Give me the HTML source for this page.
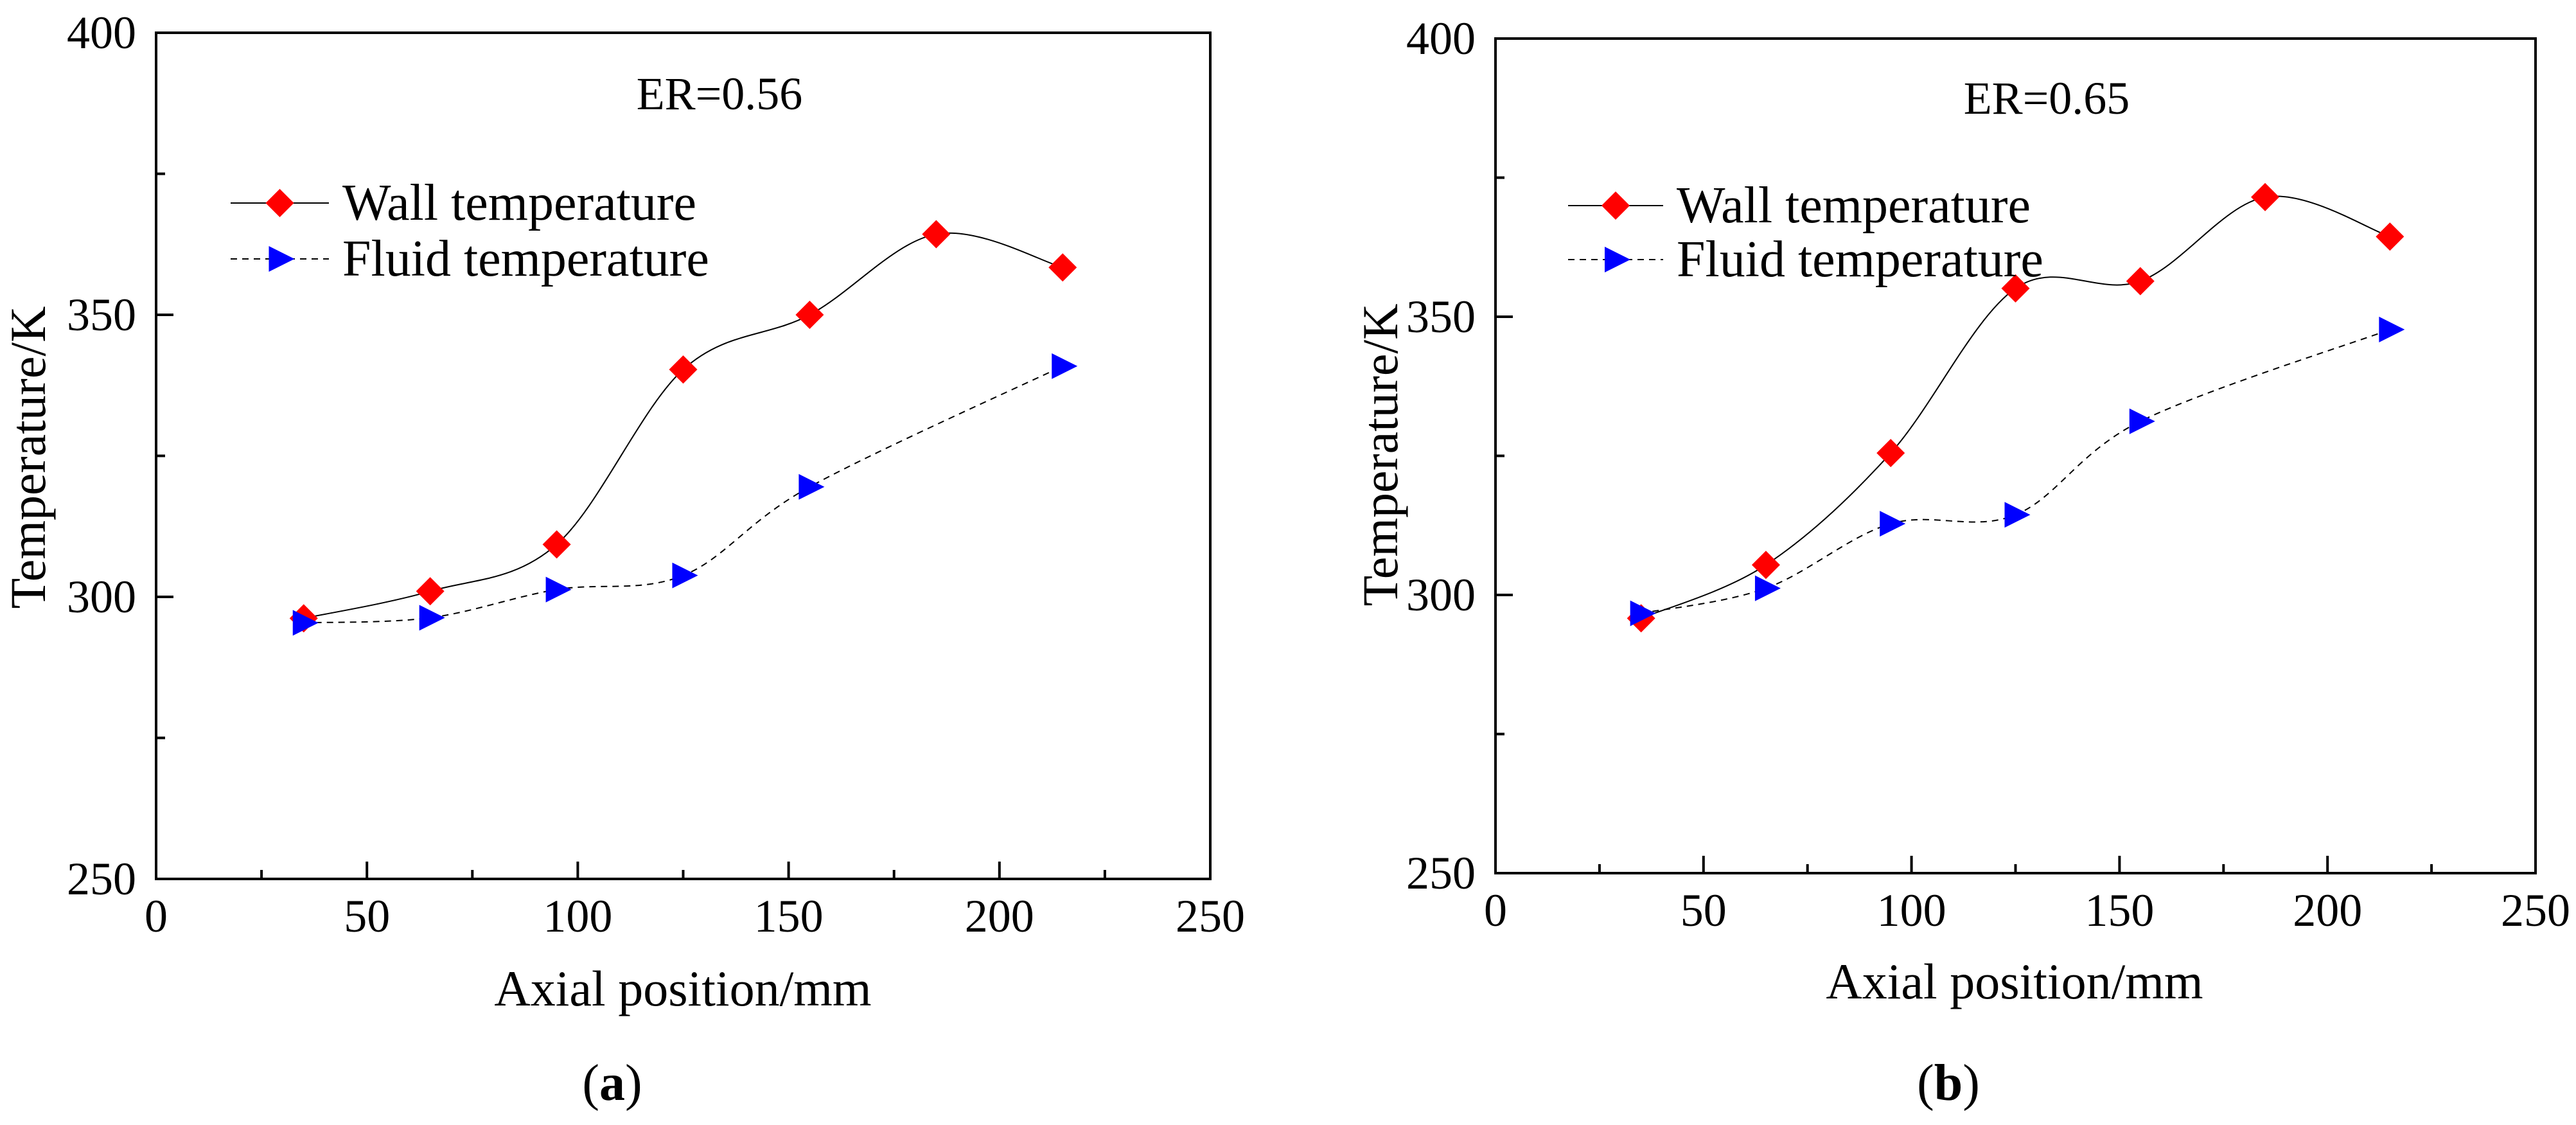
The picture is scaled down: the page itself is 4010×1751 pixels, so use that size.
<!DOCTYPE html>
<html><head><meta charset="utf-8"><style>
html,body{margin:0;padding:0;background:#fff;}
svg{display:block;}
text{font-family:"Liberation Serif","DejaVu Serif",serif;}
</style></head><body>
<svg id="chart" width="4010" height="1751" viewBox="0 0 4010 1751" xmlns="http://www.w3.org/2000/svg" font-family="Liberation Serif, serif"></svg>
<script>
const positions = [35, 65, 95, 125, 155, 185, 215];
const wallA = [296.2, 301, 309.3, 340.3, 350, 364.3, 358.4];
const fluidA = [295.4, 296.3, 301.3, 303.8, 319.5, 340.9];
const wallB = [295.8, 305.4, 325.5, 355.1, 356.4, 371.5, 364.4];
const fluidB = [296.7, 301.2, 312.8, 314.4, 331.2, 347.7];
const fluidPosA = [35, 65, 95, 125, 155, 215];
const fluidPosB = [35, 65, 95, 125, 155, 215];
const xTicks = [0, 50, 100, 150, 200, 250];
const yTicks = [250, 300, 350, 400];
const erLabels = ["ER=0.56", "ER=0.65"];

const NS = "http://www.w3.org/2000/svg";
const svg = document.getElementById("chart");
function mk(tag, attrs, parent){const e=document.createElementNS(NS,tag);for(const k in attrs)e.setAttribute(k,attrs[k]);if(tag==="text")e.setAttribute("font-family","Liberation Serif, serif");(parent||svg).appendChild(e);return e;}

function spline(pts){
  let d="M"+pts[0][0]+","+pts[0][1];
  for(let i=0;i<pts.length-1;i++){
    const p0=pts[Math.max(0,i-1)],p1=pts[i],p2=pts[i+1],p3=pts[Math.min(pts.length-1,i+2)];
    const c1=[p1[0]+(p2[0]-p0[0])/6,p1[1]+(p2[1]-p0[1])/6];
    const c2=[p2[0]-(p3[0]-p1[0])/6,p2[1]-(p3[1]-p1[1])/6];
    d+=" C"+c1[0]+","+c1[1]+" "+c2[0]+","+c2[1]+" "+p2[0]+","+p2[1];
  }
  return d;
}
function diamond(g,x,y){const r=22;const e=mk("polygon",{points:`${x},${y-r} ${x+r},${y} ${x},${y+r} ${x-r},${y}`,fill:"#ff0000"},g);

return e;}
function tri(g,x,y){const r=20;const e=mk("polygon",{points:`${x-r+3},${y-r} ${x+r+3},${y} ${x-r+3},${y+r}`,fill:"#0000ff"},g);

return e;}

function panel(cfg){
  const g=mk("g",{});
  
  
  const X=v=>cfg.L+(v-0)/250*(cfg.R-cfg.L);
  const Y=v=>cfg.B-(v-250)/150*(cfg.B-cfg.T);
  const fr=mk("rect",{x:cfg.L,y:cfg.T,width:cfg.R-cfg.L,height:cfg.B-cfg.T,fill:"none",stroke:"#000","stroke-width":4},g);
  
  
  for(let v=25;v<250;v+=25){
    const major=v%50===0;
    mk("line",{x1:X(v),x2:X(v),y1:cfg.B,y2:cfg.B-(major?27:14),stroke:"#000","stroke-width":4},g);
  }
  xTicks.forEach(v=>{const t=mk("text",{x:X(v),y:cfg.B+82,"font-size":72,"text-anchor":"middle"},g);t.textContent=v;
    
    });
  for(let v=275;v<400;v+=25){
    const major=v%50===0;
    mk("line",{x1:cfg.L,x2:cfg.L+(major?27:14),y1:Y(v),y2:Y(v),stroke:"#000","stroke-width":4},g);
  }
  yTicks.forEach(v=>{const t=mk("text",{x:cfg.L-31,y:Y(v)+24,"font-size":72,"text-anchor":"end"},g);t.textContent=v;
    
    });
  const xt=mk("text",{x:cfg.xtx,y:cfg.xty,"font-size":78,"text-anchor":"middle"},g);xt.textContent="Axial position/mm";
  
  
  const yt=mk("text",{x:0,y:0,"font-size":78,"text-anchor":"middle",transform:`translate(${cfg.ytx},${cfg.yty}) rotate(-90)`},g);yt.textContent="Temperature/K";
  
  
  const er=mk("text",{x:cfg.erx,y:cfg.ery+25,"font-size":72,"text-anchor":"middle"},g);er.textContent=cfg.er;
  
  
  const wp=positions.map((p,i)=>[X(p),Y(cfg.wall[i])]);
  const fp=cfg.fpos.map((p,i)=>[X(p),Y(cfg.fluid[i])]);
  const wl=mk("path",{d:spline(wp),fill:"none",stroke:"#000","stroke-width":2},g);
  
  
  const fl=mk("path",{d:spline(fp),fill:"none",stroke:"#000","stroke-width":2,"stroke-dasharray":"10 8"},g);
  
  
  wp.forEach(p=>diamond(g,p[0],p[1]));
  fp.forEach(p=>tri(g,p[0],p[1]));
  const lg=mk("g",{},g);
  
  
  mk("line",{x1:cfg.lx1,x2:cfg.lx2,y1:cfg.ly1,y2:cfg.ly1,stroke:"#000","stroke-width":2},lg);
  diamond(lg,(cfg.lx1+cfg.lx2)/2,cfg.ly1);
  const t1=mk("text",{x:cfg.ltx,y:cfg.ly1+26,"font-size":80},lg);t1.textContent="Wall temperature";
  
  
  mk("line",{x1:cfg.lx1,x2:cfg.lx2,y1:cfg.ly2,y2:cfg.ly2,stroke:"#000","stroke-width":2,"stroke-dasharray":"10 8"},lg);
  tri(lg,(cfg.lx1+cfg.lx2)/2,cfg.ly2);
  const t2=mk("text",{x:cfg.ltx,y:cfg.ly2+26,"font-size":80},lg);t2.textContent="Fluid temperature";
  
  
  const cap=mk("text",{x:cfg.capx,y:1712,"font-size":80,"text-anchor":"middle"},g);
  
  
  cap.appendChild(document.createTextNode("("));
  const b=mk("tspan",{"font-weight":"bold"},cap);b.textContent=cfg.cap;
  cap.appendChild(document.createTextNode(")"));
}
panel({name:"panel-a",L:243,R:1884,T:51,B:1368,wall:wallA,fluid:fluidA,fpos:fluidPosA,er:erLabels[0],
  xtx:1063,xty:1565,ytx:70,yty:712,erx:1120,ery:145,lx1:359,lx2:512,ly1:316,ly2:403,ltx:533,capx:953,cap:"a"});
panel({name:"panel-b",L:2328,R:3947,T:60,B:1359,wall:wallB,fluid:fluidB,fpos:fluidPosB,er:erLabels[1],
  xtx:3136,xty:1554,ytx:2175,yty:708,erx:3186,ery:152,lx1:2441,lx2:2589,ly1:320,ly2:404,ltx:2610,capx:3033,cap:"b"});
</script>
</body></html>
